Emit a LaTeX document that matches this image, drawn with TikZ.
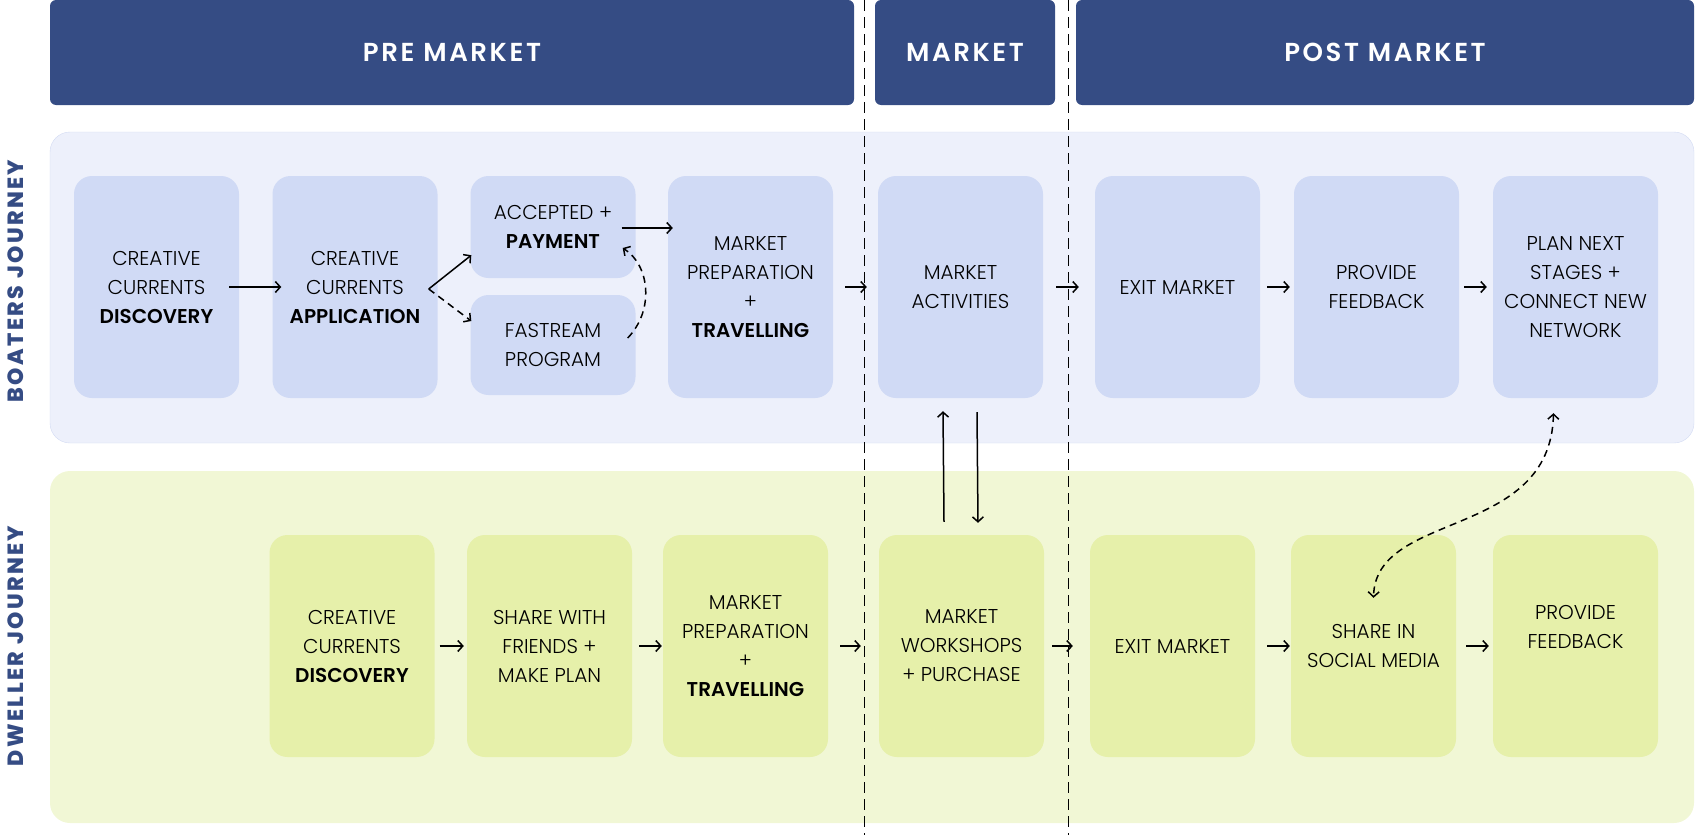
\documentclass[tikz,border=0pt]{standalone}
\usepackage{fontspec}
\setmainfont{Poppins}[UprightFont=* Light, BoldFont=* SemiBold]
\newfontfamily\headfont{Poppins SemiBold}[LetterSpace=10]
\newfontfamily\sidefont{Poppins ExtraBold}[LetterSpace=11]
\usetikzlibrary{arrows.meta}

\definecolor{headblue}{RGB}{53,76,132}
\definecolor{boatlane}{RGB}{237,240,251}
\definecolor{boatedge}{RGB}{211,219,243}
\definecolor{boatcard}{RGB}{208,218,245}
\definecolor{dwelllane}{RGB}{241,247,213}
\definecolor{dwellcard}{RGB}{230,240,170}

\tikzset{
  phase/.style={fill=headblue, rounded corners=6pt, text=white, minimum height=105pt, inner sep=0pt, font=\headfont\fontsize{26}{26}\selectfont},
  lanelabel/.style={text=headblue, rotate=90, inner sep=0pt, font=\sidefont\fontsize{22}{22}\selectfont},
  card/.style={rounded corners=18pt, minimum width=165pt, minimum height=222pt, align=center, inner sep=0pt, font=\fontsize{20}{29}\selectfont},
  boatbox/.style={card, fill=boatcard},
  dwellbox/.style={card, fill=dwellcard},
  flow/.style={->, line width=1.5pt},
  flowdash/.style={flow, dash pattern=on 7pt off 5pt},
  divider/.style={line width=1pt, dash pattern=on 11pt off 6pt}
}

\begin{document}
\begin{tikzpicture}[x=1pt, y=-1pt, >={Straight Barb[length=5pt,width=11pt]}]
\useasboundingbox (0,0) rectangle (1695,835);

% lanes
\draw[boatedge, fill=boatlane, rounded corners=20pt] (50,132) rectangle (1694,443);
\fill[dwelllane, rounded corners=20pt] (50,471) rectangle (1694,823);

\node[lanelabel] (boatlbl) at (16,281) {BOATERS JOURNEY};
\node[lanelabel] (dwelllbl) at (16,646) {DWELLER JOURNEY};

% phases
\node[phase, minimum width=804pt] (pre) at (452,52.5) {PRE MARKET};
\node[phase, minimum width=180pt] (mkt) at (965,52.5) {MARKET};
\node[phase, minimum width=618pt] (post) at (1385,52.5) {POST MARKET};

\coordinate (cutAtop) at (864,0);
\coordinate (cutAbot) at (864,835);
\coordinate (cutBtop) at (1068,0);
\coordinate (cutBbot) at (1068,835);
\draw[divider] (cutAtop) -- (cutAbot);
\draw[divider] (cutBtop) -- (cutBbot);

% boaters
\node[boatbox] (b1) at (156.5,287) {CREATIVE\\CURRENTS\\\textbf{DISCOVERY}};
\node[boatbox] (b2) at (355,287) {CREATIVE\\CURRENTS\\\textbf{APPLICATION}};
\node[boatbox, minimum height=102pt] (b3) at (553,227) {ACCEPTED +\\\textbf{PAYMENT}};
\node[boatbox, minimum height=100pt] (b4) at (553,345) {FASTREAM\\PROGRAM};
\node[boatbox] (b5) at (750.5,287) {MARKET\\PREPARATION\\+\\\textbf{TRAVELLING}};
\node[boatbox] (b6) at (960.5,287) {MARKET\\ACTIVITIES};
\node[boatbox] (b7) at (1177.5,287) {EXIT MARKET};
\node[boatbox] (b8) at (1376.5,287) {PROVIDE\\FEEDBACK};
\node[boatbox] (b9) at (1575.5,287) {PLAN NEXT\\STAGES +\\CONNECT NEW\\NETWORK};

% dwellers
\node[dwellbox] (d1) at (352,646) {CREATIVE\\CURRENTS\\\textbf{DISCOVERY}};
\node[dwellbox] (d2) at (549.5,646) {SHARE WITH\\FRIENDS +\\MAKE PLAN};
\node[dwellbox] (d3) at (745.5,646) {MARKET\\PREPARATION\\+\\\textbf{TRAVELLING}};
\node[dwellbox] (d4) at (961.5,646) {MARKET\\WORKSHOPS\\+ PURCHASE};
\node[dwellbox] (d5) at (1172.5,646) {EXIT MARKET};
\node[dwellbox] (d6) at (1373.5,646) {SHARE IN\\SOCIAL MEDIA};
\node[dwellbox] (d7) at (1575.5,646) {PROVIDE\\FEEDBACK\\\strut};

% boater arrows
\draw[flow, shorten <=-10pt, shorten >=-9pt] (b1) -- (b2);
\draw[flow] ([shift={(-9,2)}]b2.east) -- ([shift={(1,-23)}]b3.south west);
\draw[flowdash] ([shift={(-9,2)}]b2.east) -- ([shift={(1,-24)}]b4.west);
\draw[flow] ([shift={(-14,1)}]b3.east) -- ([shift={(5,1)}]b3.east -| b5.west);
\draw[flowdash] ([shift={(-8,-7)}]b4.east) .. controls +(27,-28) and +(27,17) .. ([shift={(-13,21)}]b3.east);
\draw[flow, shorten <=12pt, shorten >=11pt] (b5) -- (b6);
\draw[flow, shorten <=13pt, shorten >=16pt] (b6) -- (b7);
\draw[flow, shorten <=7pt, shorten >=4pt] (b7) -- (b8);
\draw[flow, shorten <=5pt, shorten >=6pt] (b8) -- (b9);

% dweller arrows
\draw[flow, shorten <=5pt, shorten >=3pt] (d1) -- (d2);
\draw[flow, shorten <=7pt, shorten >=1pt] (d2) -- (d3);
\draw[flow, shorten <=12pt, shorten >=18pt] (d3) -- (d4);
\draw[flow, shorten <=8pt, shorten >=17pt] (d4) -- (d5);
\draw[flow, shorten <=12pt, shorten >=1pt] (d5) -- (d6);
\draw[flow, shorten <=10pt, shorten >=4pt] (d6) -- (d7);

% between the lanes
\draw[flow] ([shift={(-17.5,-13)}]d4.north) -- ([shift={(-17.5,13)}]b6.south);
\draw[flow] ([shift={(16.5,14)}]b6.south) -- ([shift={(16.5,-12)}]d4.north);
\draw[flowdash, <->] ([shift={(-22,15)}]b9.south) .. controls +(-3,127) and +(2,-88) .. ([shift={(0,63)}]d6.north);

\end{tikzpicture}
\end{document}
